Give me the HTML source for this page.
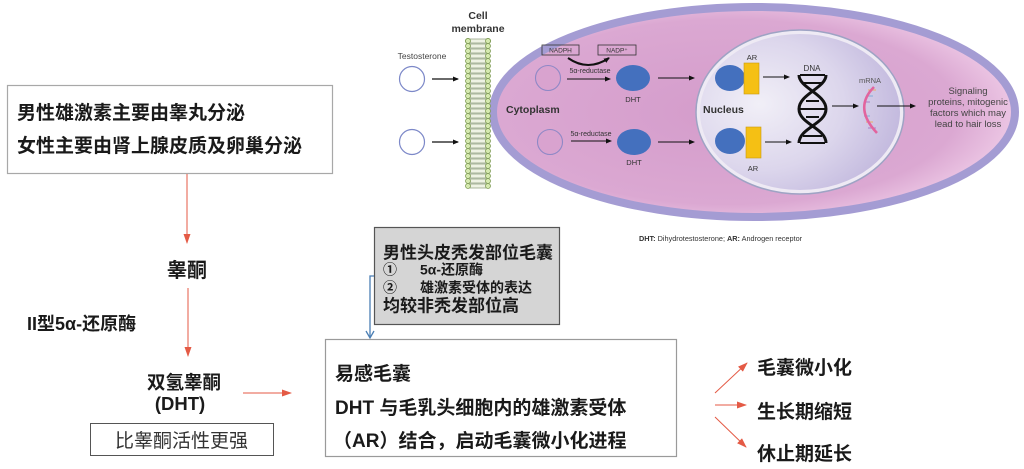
<!DOCTYPE html>
<html><head><meta charset="utf-8"><style>
html,body{margin:0;padding:0;background:#fff;}
svg{display:block;}
.cj{font-family:"Liberation Sans","Noto Sans CJK SC",sans-serif;}
.en{font-family:"Liberation Sans",sans-serif;}
</style></head><body>
<svg width="1024" height="469" viewBox="0 0 1024 469" xmlns="http://www.w3.org/2000/svg">
<defs>
<radialGradient id="cellg" cx="0.45" cy="0.5" r="0.55">
<stop offset="0" stop-color="#d49ccb"/>
<stop offset="0.8" stop-color="#dba8d2"/>
<stop offset="1" stop-color="#ecc6e4"/>
</radialGradient>
<radialGradient id="nucg" cx="0.3" cy="0.45" r="0.75">
<stop offset="0" stop-color="#f1eff7"/>
<stop offset="0.55" stop-color="#dcd6ec"/>
<stop offset="1" stop-color="#bfb5dc"/>
</radialGradient>
<marker id="ab" markerWidth="6" markerHeight="6" refX="5" refY="3" orient="auto" markerUnits="userSpaceOnUse">
<path d="M0,0.5 L6,3 L0,5.5 Z" fill="#111"/>
</marker>
<marker id="ar" markerWidth="10" markerHeight="10" refX="9" refY="5" orient="auto" markerUnits="userSpaceOnUse">
<path d="M0,1.5 L10,5 L0,8.5 Z" fill="#e45a45"/>
</marker>
</defs>

<!-- Cell -->
<ellipse cx="754" cy="112" rx="261" ry="105" fill="url(#cellg)" stroke="#a49cd3" stroke-width="8"/>
<!-- Nucleus -->
<ellipse cx="800" cy="112" rx="102" ry="80" fill="url(#nucg)" stroke="#eeeaf4" stroke-width="4"/>
<ellipse cx="800" cy="112" rx="104" ry="82" fill="none" stroke="#9ea3c4" stroke-width="1.5"/>

<!-- Membrane -->
<g id="mem">
<g fill="#d6eab0" stroke="#7f9c55" stroke-width="0.8">
<circle cx="468" cy="41" r="2.6"/><circle cx="488" cy="41" r="2.6"/>
</g>
</g>
<g stroke="#8a9a7a" stroke-width="0.7" fill="#eef2e4">
<rect x="470" y="39" width="16" height="4"/><rect x="470" y="44" width="16" height="4"/><rect x="470" y="49" width="16" height="4"/><rect x="470" y="54" width="16" height="4"/><rect x="470" y="59" width="16" height="4"/><rect x="470" y="64" width="16" height="4"/><rect x="470" y="69" width="16" height="4"/><rect x="470" y="74" width="16" height="4"/><rect x="470" y="79" width="16" height="4"/><rect x="470" y="84" width="16" height="4"/><rect x="470" y="89" width="16" height="4"/><rect x="470" y="94" width="16" height="4"/><rect x="470" y="99" width="16" height="4"/><rect x="470" y="104" width="16" height="4"/><rect x="470" y="109" width="16" height="4"/><rect x="470" y="114" width="16" height="4"/><rect x="470" y="119" width="16" height="4"/><rect x="470" y="124" width="16" height="4"/><rect x="470" y="129" width="16" height="4"/><rect x="470" y="134" width="16" height="4"/><rect x="470" y="139" width="16" height="4"/><rect x="470" y="144" width="16" height="4"/><rect x="470" y="149" width="16" height="4"/><rect x="470" y="154" width="16" height="4"/><rect x="470" y="159" width="16" height="4"/><rect x="470" y="164" width="16" height="4"/><rect x="470" y="169" width="16" height="4"/><rect x="470" y="174" width="16" height="4"/><rect x="470" y="179" width="16" height="4"/><rect x="470" y="184" width="16" height="4"/>
</g>
<g fill="#d6eab0" stroke="#7f9c55" stroke-width="0.8">
<circle cx="468" cy="41" r="2.5"/><circle cx="488" cy="41" r="2.5"/><circle cx="468" cy="46" r="2.5"/><circle cx="488" cy="46" r="2.5"/><circle cx="468" cy="51" r="2.5"/><circle cx="488" cy="51" r="2.5"/><circle cx="468" cy="56" r="2.5"/><circle cx="488" cy="56" r="2.5"/><circle cx="468" cy="61" r="2.5"/><circle cx="488" cy="61" r="2.5"/><circle cx="468" cy="66" r="2.5"/><circle cx="488" cy="66" r="2.5"/><circle cx="468" cy="71" r="2.5"/><circle cx="488" cy="71" r="2.5"/><circle cx="468" cy="76" r="2.5"/><circle cx="488" cy="76" r="2.5"/><circle cx="468" cy="81" r="2.5"/><circle cx="488" cy="81" r="2.5"/><circle cx="468" cy="86" r="2.5"/><circle cx="488" cy="86" r="2.5"/><circle cx="468" cy="91" r="2.5"/><circle cx="488" cy="91" r="2.5"/><circle cx="468" cy="96" r="2.5"/><circle cx="488" cy="96" r="2.5"/><circle cx="468" cy="101" r="2.5"/><circle cx="488" cy="101" r="2.5"/><circle cx="468" cy="106" r="2.5"/><circle cx="488" cy="106" r="2.5"/><circle cx="468" cy="111" r="2.5"/><circle cx="488" cy="111" r="2.5"/><circle cx="468" cy="116" r="2.5"/><circle cx="488" cy="116" r="2.5"/><circle cx="468" cy="121" r="2.5"/><circle cx="488" cy="121" r="2.5"/><circle cx="468" cy="126" r="2.5"/><circle cx="488" cy="126" r="2.5"/><circle cx="468" cy="131" r="2.5"/><circle cx="488" cy="131" r="2.5"/><circle cx="468" cy="136" r="2.5"/><circle cx="488" cy="136" r="2.5"/><circle cx="468" cy="141" r="2.5"/><circle cx="488" cy="141" r="2.5"/><circle cx="468" cy="146" r="2.5"/><circle cx="488" cy="146" r="2.5"/><circle cx="468" cy="151" r="2.5"/><circle cx="488" cy="151" r="2.5"/><circle cx="468" cy="156" r="2.5"/><circle cx="488" cy="156" r="2.5"/><circle cx="468" cy="161" r="2.5"/><circle cx="488" cy="161" r="2.5"/><circle cx="468" cy="166" r="2.5"/><circle cx="488" cy="166" r="2.5"/><circle cx="468" cy="171" r="2.5"/><circle cx="488" cy="171" r="2.5"/><circle cx="468" cy="176" r="2.5"/><circle cx="488" cy="176" r="2.5"/><circle cx="468" cy="181" r="2.5"/><circle cx="488" cy="181" r="2.5"/><circle cx="468" cy="186" r="2.5"/><circle cx="488" cy="186" r="2.5"/>
</g>

<!-- Cell labels -->
<text x="478" y="19" text-anchor="middle" class="en" font-size="10.5" font-weight="bold" fill="#333">Cell</text>
<text x="478" y="32" text-anchor="middle" class="en" font-size="10.5" font-weight="bold" fill="#333">membrane</text>
<text x="422" y="59" text-anchor="middle" class="en" font-size="8.5" fill="#444">Testosterone</text>

<circle cx="412" cy="79" r="12.5" fill="#fff" stroke="#7c88c8" stroke-width="1.2"/>
<circle cx="412" cy="142" r="12.5" fill="#fff" stroke="#7c88c8" stroke-width="1.2"/>
<line x1="432" y1="79" x2="458" y2="79" stroke="#111" stroke-width="1.2" marker-end="url(#ab)"/>
<line x1="432" y1="142" x2="458" y2="142" stroke="#111" stroke-width="1.2" marker-end="url(#ab)"/>

<!-- NADPH -->
<rect x="542" y="45" width="37" height="10" fill="none" stroke="#333" stroke-width="0.8"/>
<text x="560.5" y="52.5" text-anchor="middle" class="en" font-size="6.5" fill="#333">NADPH</text>
<rect x="598" y="45" width="38" height="10" fill="none" stroke="#333" stroke-width="0.8"/>
<text x="617" y="52.5" text-anchor="middle" class="en" font-size="6.5" fill="#333">NADP⁺</text>
<path d="M568,58 Q588,72 609,58" fill="none" stroke="#111" stroke-width="2" marker-end="url(#ab)"/>

<circle cx="548" cy="78" r="12.5" fill="#d9a3cf" stroke="#8e88c6" stroke-width="1.1"/>
<circle cx="550" cy="142" r="12.5" fill="#d9a3cf" stroke="#8e88c6" stroke-width="1.1"/>
<text x="590" y="73" text-anchor="middle" class="en" font-size="7" fill="#333">5α-reductase</text>
<text x="591" y="136" text-anchor="middle" class="en" font-size="7" fill="#333">5α-reductase</text>
<line x1="567" y1="79" x2="610" y2="79" stroke="#111" stroke-width="1.1" marker-end="url(#ab)"/>
<line x1="571" y1="141" x2="611" y2="141" stroke="#111" stroke-width="1.1" marker-end="url(#ab)"/>

<ellipse cx="633" cy="78" rx="17" ry="13" fill="#4470be"/>
<ellipse cx="634" cy="142" rx="17" ry="13" fill="#4470be"/>
<text x="633" y="102" text-anchor="middle" class="en" font-size="7.5" fill="#333">DHT</text>
<text x="634" y="165" text-anchor="middle" class="en" font-size="7.5" fill="#333">DHT</text>
<line x1="658" y1="78" x2="694" y2="78" stroke="#111" stroke-width="1.1" marker-end="url(#ab)"/>
<line x1="658" y1="142" x2="694" y2="142" stroke="#111" stroke-width="1.1" marker-end="url(#ab)"/>

<text x="506" y="113" class="en" font-size="10.5" font-weight="bold" fill="#333">Cytoplasm</text>
<text x="703" y="113" class="en" font-size="10.5" font-weight="bold" fill="#333">Nucleus</text>

<!-- AR -->
<ellipse cx="730" cy="78" rx="15" ry="13" fill="#4470be"/>
<rect x="744" y="63" width="15" height="31" fill="#f5c014" stroke="#c89a10" stroke-width="0.6"/>
<text x="752" y="60" text-anchor="middle" class="en" font-size="7.5" fill="#333">AR</text>
<ellipse cx="730" cy="141" rx="15" ry="13" fill="#4470be"/>
<rect x="746" y="127" width="15" height="31" fill="#f5c014" stroke="#c89a10" stroke-width="0.6"/>
<text x="753" y="171" text-anchor="middle" class="en" font-size="7.5" fill="#333">AR</text>
<line x1="763" y1="77" x2="789" y2="77" stroke="#111" stroke-width="1.1" marker-end="url(#ab)"/>
<line x1="765" y1="142" x2="791" y2="142" stroke="#111" stroke-width="1.1" marker-end="url(#ab)"/>

<!-- DNA -->
<text x="812" y="71" text-anchor="middle" class="en" font-size="8" fill="#333">DNA</text>
<path d="M799,75 C799,88 826,94 826,109 C826,124 799,128 799,143" fill="none" stroke="#111" stroke-width="3"/>
<path d="M826,75 C826,88 799,94 799,109 C799,124 826,128 826,143" fill="none" stroke="#111" stroke-width="3"/>
<g stroke="#111" stroke-width="2">
<line x1="800" y1="75" x2="825" y2="75"/>
<line x1="803" y1="83" x2="822" y2="83"/>
<line x1="806" y1="101" x2="819" y2="101"/>
<line x1="800" y1="109" x2="825" y2="109"/>
<line x1="806" y1="117" x2="819" y2="117"/>
<line x1="803" y1="136" x2="822" y2="136"/>
<line x1="800" y1="143" x2="825" y2="143"/>
</g>
<line x1="832" y1="106" x2="858" y2="106" stroke="#111" stroke-width="1.1" marker-end="url(#ab)"/>

<!-- mRNA -->
<text x="870" y="83" text-anchor="middle" class="en" font-size="7.5" fill="#555">mRNA</text>
<g stroke-width="1.2">
<line x1="868" y1="90" x2="876" y2="90" stroke="#e7b07a"/>
<line x1="866" y1="96" x2="873" y2="96" stroke="#8fb0d8"/>
<line x1="864" y1="102" x2="870" y2="102" stroke="#b08acb"/>
<line x1="864" y1="116" x2="870" y2="116" stroke="#8fb0d8"/>
<line x1="866" y1="122" x2="873" y2="122" stroke="#e7b07a"/>
<line x1="868" y1="128" x2="876" y2="128" stroke="#b08acb"/>
</g>
<path d="M874,87 C861,100 860,115 877,133" fill="none" stroke="#e2649e" stroke-width="2.6"/>
<line x1="877" y1="106" x2="915" y2="106" stroke="#111" stroke-width="1.1" marker-end="url(#ab)"/>

<g class="en" font-size="9.5" fill="#444" text-anchor="middle">
<text x="968" y="94">Signaling</text>
<text x="968" y="105">proteins, mitogenic</text>
<text x="968" y="116">factors which may</text>
<text x="968" y="127">lead to hair loss</text>
</g>

<text x="639" y="241" class="en" font-size="7.3" fill="#333"><tspan font-weight="bold">DHT:</tspan> Dihydrotestosterone; <tspan font-weight="bold">AR:</tspan> Androgen receptor</text>

<!-- Left flow -->
<rect x="7.5" y="85.5" width="325" height="88" fill="#fff" stroke="#a8a8a8" stroke-width="1.2"/>
<g class="cj" font-weight="bold" font-size="19" fill="#1a1a1a">
<text x="17" y="119">男性雄激素主要由睾丸分泌</text>
<text x="17" y="152">女性主要由肾上腺皮质及卵巢分泌</text>
</g>
<line x1="187" y1="174" x2="187" y2="243" stroke="#e45a45" stroke-width="1" marker-end="url(#ar)"/>
<text x="187" y="277" text-anchor="middle" class="cj" font-weight="bold" font-size="20" fill="#1a1a1a">睾酮</text>
<line x1="188" y1="288" x2="188" y2="356" stroke="#e45a45" stroke-width="1" marker-end="url(#ar)"/>
<text x="27" y="330" class="cj" font-weight="bold" font-size="18" fill="#1a1a1a">II型5α-还原酶</text>
<text x="184" y="389" text-anchor="middle" class="cj" font-weight="bold" font-size="18.5" fill="#1a1a1a">双氢睾酮</text>
<text x="180" y="410" text-anchor="middle" class="cj" font-weight="bold" font-size="18.5" fill="#1a1a1a">(DHT)</text>
<rect x="90.5" y="423.5" width="183" height="32" fill="#fff" stroke="#555" stroke-width="1"/>
<text x="181.5" y="447" text-anchor="middle" class="cj" font-size="19" fill="#333">比睾酮活性更强</text>
<line x1="243" y1="393" x2="291" y2="393" stroke="#e45a45" stroke-width="1" marker-end="url(#ar)"/>

<!-- Gray box -->
<rect x="374.5" y="227.5" width="185" height="97" fill="#d5d5d5" stroke="#555" stroke-width="1.2"/>
<g class="cj" font-weight="bold" fill="#1a1a1a">
<text x="383" y="258.5" font-size="17">男性头皮秃发部位毛囊</text>
<text x="383" y="274.5" font-size="14">①</text>
<text x="420" y="274.5" font-size="14">5α-还原酶</text>
<text x="383" y="292.5" font-size="14">②</text>
<text x="420" y="292.5" font-size="14">雄激素受体的表达</text>
<text x="383" y="311.5" font-size="17">均较非秃发部位高</text>
</g>
<path d="M374,276 H370 V337" fill="none" stroke="#4a7eb4" stroke-width="1.3"/>
<path d="M366,331 L370,338 L374,331" fill="none" stroke="#4a7eb4" stroke-width="1.3"/>

<!-- Main box -->
<rect x="325.5" y="339.5" width="351" height="117" fill="#fff" stroke="#9a9a9a" stroke-width="1.2"/>
<g class="cj" font-weight="bold" font-size="19" fill="#1a1a1a">
<text x="335" y="380">易感毛囊</text>
<text x="335" y="414">DHT 与毛乳头细胞内的雄激素受体</text>
<text x="333" y="447">（AR）结合，启动毛囊微小化进程</text>
</g>

<!-- Right arrows -->
<line x1="715" y1="393" x2="747" y2="363" stroke="#e45a45" stroke-width="1" marker-end="url(#ar)"/>
<line x1="715" y1="405" x2="746" y2="405" stroke="#e45a45" stroke-width="1" marker-end="url(#ar)"/>
<line x1="715" y1="417" x2="746" y2="447" stroke="#e45a45" stroke-width="1" marker-end="url(#ar)"/>
<g class="cj" font-weight="bold" font-size="19" fill="#1a1a1a">
<text x="757" y="374">毛囊微小化</text>
<text x="757" y="418">生长期缩短</text>
<text x="757" y="460">休止期延长</text>
</g>
</svg>
</body></html>
